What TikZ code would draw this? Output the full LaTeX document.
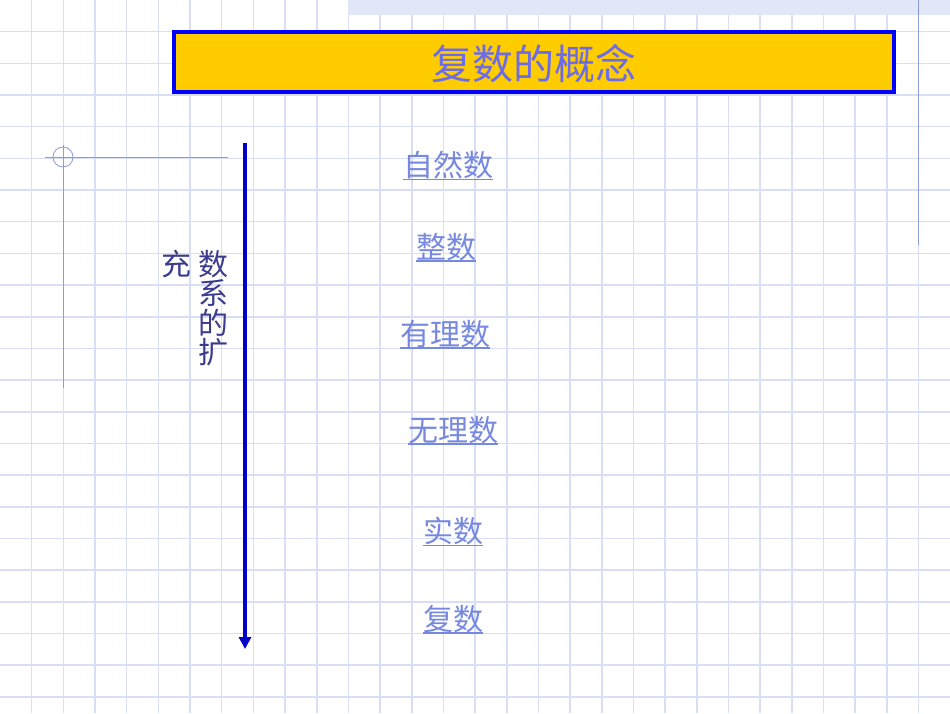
\documentclass[tikz,border=0pt]{standalone}
\usepackage{fontspec}
\setmainfont{Noto Sans CJK SC}
\usepackage{tikz}
\usetikzlibrary{positioning, arrows.meta}
\definecolor{gridblue}{RGB}{216,222,246}
\definecolor{bandblue}{RGB}{226,231,247}
\definecolor{rulerblue}{RGB}{140,155,224}
\definecolor{titlegold}{RGB}{255,204,0}
\definecolor{titleblue}{RGB}{108,108,232}
\definecolor{arrowblue}{RGB}{0,0,200}
\definecolor{sidetext}{RGB}{60,60,140}
\definecolor{linkblue}{RGB}{118,136,224}
\tikzset{
  linkword/.style={inner sep=0pt, text=linkblue, font=\fontsize{30}{30}\selectfont},
  sideword/.style={inner sep=0pt, text=sidetext, font=\fontsize{30}{30}\selectfont},
  underbar/.style={draw=linkblue, line width=1.2pt}
}

\begin{document}
\begin{tikzpicture}[x=1pt, y=-1pt]
    \useasboundingbox (0,0) rectangle (950,713);
    \fill[white] (0,0) rectangle (950,713);
    % grid paper
    \foreach \k in {1,...,29} \draw[gridblue, line width=1.6pt] (\k*31.67,0) -- (\k*31.67,713);
    \foreach \k in {1,...,22} \draw[gridblue, line width=1.6pt] (0,\k*31.67) -- (950,\k*31.67);
    \fill[bandblue] (348,0) rectangle (950,15);
    \draw[rulerblue, line width=0.8pt] (918,0) -- (918,245);
    \draw[rulerblue, line width=0.8pt] (45,157) -- (228,157);
    \draw[rulerblue, line width=0.8pt] (63,145) -- (63,388);
    \draw[rulerblue, line width=0.8pt] (63,157) circle (10);

    % title
    \node (titlebox) at (534,62) [rectangle, draw=blue, line width=3.5pt, fill=titlegold,
        minimum width=720, minimum height=60, inner sep=0pt] {};
    \node (title) at (534,64) [text=titleblue, font=\fontsize{41}{41}\selectfont] {复数的概念};

    % arrow
    \coordinate (arrowtop) at (245,143);
    \coordinate (arrowend) at (245,649);
    \draw[arrowblue, line width=3.6pt, -{Triangle[width=12pt,length=12pt]}] (arrowtop) -- (arrowend);

    % side text
    \node (side1) at (213,264) [sideword] {数};
    \node (side2) [sideword, below=1.5pt of side1] {系};
    \node (side3) [sideword, below=1.5pt of side2] {的};
    \node (side4) [sideword, below=1.5pt of side3] {扩};
    \node (side5) at (176,264) [sideword] {充};

    % number sets
    \node (natural)   at (448,165) [linkword] {自然数};
    \node (integer)   at (446,247) [linkword] {整数};
    \node (rational)  at (445,334) [linkword] {有理数};
    \node (irrational) at (453,430) [linkword] {无理数};
    \node (real)      at (453,531) [linkword] {实数};
    \node (complex)   at (453,619) [linkword] {复数};
    \foreach \n in {natural, integer, rational, irrational, real, complex}
        \draw[underbar] (\n.south west) -- (\n.south east);
\end{tikzpicture}
\end{document}
